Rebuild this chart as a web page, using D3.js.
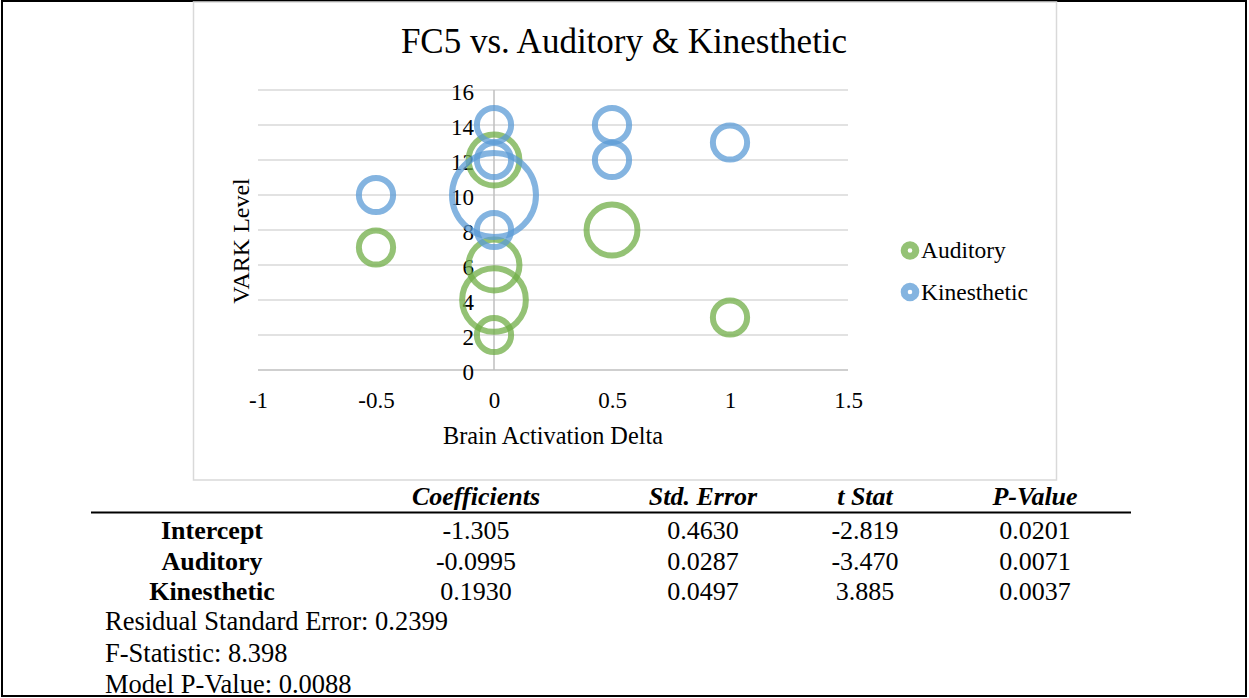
<!DOCTYPE html>
<html>
<head>
<meta charset="utf-8">
<script src="https://cdn.jsdelivr.net/npm/d3@7"></script>
<style>
    body { margin: 0; background: #fff; }
    svg text { font-family: "Liberation Serif", "Times New Roman", serif; fill: #000; }
</style>
</head>
<body>
<div id="chart"></div>
<script>
// FC5 vs. Auditory & Kinesthetic - bubble chart plus the regression table under it

var width = 1249,
    height = 698;

// bubble data (x = brain activation delta, y = VARK level, size = bubble size)
var audX = [-0.5, 0, 0, 0, 0, 0.5, 1],
    audY = [7, 12, 6, 4, 2, 8, 3],
    audSize = [1, 2, 2, 3, 1, 2, 1];
var kinX = [-0.5, 0, 0, 0, 0, 0.5, 0.5, 1],
    kinY = [10, 14, 12, 10, 8, 14, 12, 13],
    kinSize = [1, 1, 1, 5, 1, 1, 1, 1];
var seriesNames = ["Auditory", "Kinesthetic"];
var xTicks = [-1, -0.5, 0, 0.5, 1, 1.5],
    yTicks = [0, 2, 4, 6, 8, 10, 12, 14, 16];

// regression table
var tableHeaders = ["Coefficients", "Std. Error", "t Stat", "P-Value"];
var rowNames = ["Intercept", "Auditory", "Kinesthetic"],
    coefficients = ["-1.305", "-0.0995", "0.1930"],
    stdErrors = ["0.4630", "0.0287", "0.0497"],
    tStats = ["-2.819", "-3.470", "3.885"],
    pValues = ["0.0201", "0.0071", "0.0037"];
var summaryLines = ["Residual Standard Error: 0.2399", "F-Statistic: 8.398", "Model P-Value: 0.0088"];

var colors = {Auditory: "#70AD47", Kinesthetic: "#5B9BD5"};
var serif = "'Liberation Serif', 'Times New Roman', serif";

var svg = d3.select("#chart").
    append("svg").
    attr("width", width).
    attr("height", height);

// outer frame and chart box
svg.append("rect").
    attr("x", 2).attr("y", 1).
    attr("width", 1244).attr("height", 695).
    attr("fill", "none").
    attr("stroke", "#000").
    attr("stroke-width", 2);
svg.append("rect").
    attr("x", 193.5).attr("y", 2).
    attr("width", 863).attr("height", 478).
    attr("fill", "none").
    attr("stroke", "#d9d9d9").
    attr("stroke-width", 1.5);

// scales
var x = d3.scaleLinear().domain([-1, 1.5]).range([258, 848]),
    y = d3.scaleLinear().domain([0, 16]).range([370, 90]),
    r = d3.scaleSqrt().domain([0, 5]).range([0, 45]);

// title
svg.append("text").
    attr("x", 624).attr("y", 53).
    attr("text-anchor", "middle").
    style("font-size", "35px").
    text("FC5 vs. Auditory & Kinesthetic");

// gridlines
svg.append("g").
    selectAll("line").
    data(yTicks.filter(function(d) { return d > 0; })).
    enter().
    append("line").
    attr("x1", x(-1)).attr("x2", x(1.5)).
    attr("y1", function(d) { return y(d); }).
    attr("y2", function(d) { return y(d); }).
    attr("stroke", "#d9d9d9").
    attr("stroke-width", 1.5);

// axis lines (vertical axis crosses at x = 0)
svg.append("line").
    attr("x1", x(-1)).attr("x2", x(1.5)).
    attr("y1", y(0)).attr("y2", y(0)).
    attr("stroke", "#bfbfbf").attr("stroke-width", 1.5);
svg.append("line").
    attr("x1", x(0)).attr("x2", x(0)).
    attr("y1", y(0)).attr("y2", y(16)).
    attr("stroke", "#bfbfbf").attr("stroke-width", 1.5);

// x tick labels (plain hyphen for negatives, like the original)
var xAxis = d3.axisBottom(x).
    tickValues(xTicks).
    tickSize(0).
    tickPadding(0).
    tickFormat(function(d) { return String(d); });
var gx = svg.append("g").
    attr("transform", "translate(0," + 391 + ")").
    call(xAxis);
gx.select(".domain").remove();
gx.selectAll("text").
    attr("dy", "0.75em").
    style("font-size", "23px").
    style("font-family", serif);

// y tick labels, placed next to the axis at x = 0
var yAxis = d3.axisLeft(y).tickValues(yTicks).tickSize(0).tickPadding(0);
var gy = svg.append("g").
    attr("transform", "translate(" + (x(0) - 20) + ",0)").
    call(yAxis);
gy.select(".domain").remove();
gy.selectAll("text").
    attr("dy", "0.4em").
    style("font-size", "23px").
    style("font-family", serif);

// axis titles
svg.append("text").
    attr("x", 553).attr("y", 444).
    attr("text-anchor", "middle").
    style("font-size", "24.3px").
    text("Brain Activation Delta");
svg.append("text").
    attr("transform", "translate(249,241) rotate(-90)").
    attr("text-anchor", "middle").
    style("font-size", "24px").
    text("VARK Level");

// bubbles
function toPoints(xs, ys, sizes, name) {
    return xs.map(function(d, i) { return {x: d, y: ys[i], size: sizes[i], name: name}; });
}
var bubbleData = [
    toPoints(audX, audY, audSize, "Auditory"),
    toPoints(kinX, kinY, kinSize, "Kinesthetic")
];
var stroke = 6;

svg.selectAll(".series").
    data(bubbleData).
    enter().
    append("g").
    attr("class", "series").
    selectAll("circle").
    data(function(d) { return d; }).
    enter().
    append("circle").
    attr("cx", function(d) { return x(d.x); }).
    attr("cy", function(d) { return y(d.y); }).
    attr("r", function(d) { return r(d.size) - stroke / 2; }).
    attr("fill", "none").
    attr("stroke", function(d) { return colors[d.name]; }).
    attr("stroke-opacity", 0.75).
    attr("stroke-width", stroke);

// legend
var legend = svg.selectAll(".legend").
    data(seriesNames).
    enter().
    append("g").
    attr("class", "legend").
    attr("transform", function(d, i) { return "translate(910," + (250.5 + i * 41.5) + ")"; });
legend.append("circle").
    attr("r", 5.8).
    attr("fill", "none").
    attr("stroke", function(d) { return colors[d]; }).
    attr("stroke-opacity", 0.75).
    attr("stroke-width", 7);
legend.append("text").
    attr("x", 11).
    attr("dy", "0.33em").
    style("font-size", "23.5px").
    text(function(d) { return d; });

// regression table
var colX = [476, 703, 865, 1035],
    rowY = [530, 561, 591],
    tableFont = "26px";

svg.selectAll(".head").
    data(tableHeaders).
    enter().
    append("text").
    attr("class", "head").
    attr("x", function(d, i) { return colX[i]; }).
    attr("y", 505).
    attr("text-anchor", "middle").
    style("font-size", tableFont).
    style("font-weight", "bold").
    style("font-style", "italic").
    text(function(d) { return d; });

svg.append("line").
    attr("x1", 91).attr("x2", 1131).
    attr("y1", 512.5).attr("y2", 512.5).
    attr("stroke", "#000").attr("stroke-width", 2);

var columns = [coefficients, stdErrors, tStats, pValues];
rowNames.forEach(function(name, i) {
    svg.append("text").
        attr("x", 212).attr("y", rowY[i]).
        attr("dy", "0.35em").
        attr("text-anchor", "middle").
        style("font-size", tableFont).
        style("font-weight", "bold").
        text(name);
    columns.forEach(function(col, j) {
        svg.append("text").
            attr("x", colX[j]).attr("y", rowY[i]).
            attr("dy", "0.35em").
            attr("text-anchor", "middle").
            style("font-size", tableFont).
            text(col[i]);
    });
});

// model summary lines
svg.selectAll(".summary").
    data(summaryLines).
    enter().
    append("text").
    attr("class", "summary").
    attr("x", 105).
    attr("y", function(d, i) { return 621 + i * 31.5; }).
    attr("dy", "0.35em").
    style("font-size", "26.5px").
    text(function(d) { return d; });
</script>
</body>
</html>
